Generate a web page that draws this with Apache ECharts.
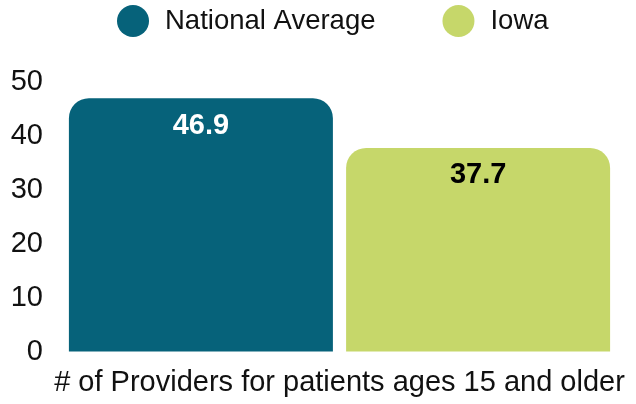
<!DOCTYPE html>
<html><head><meta charset="utf-8">
<script src="https://cdn.jsdelivr.net/npm/echarts@6/dist/echarts.min.js"></script>
<style>html,body{margin:0;padding:0;background:#fff}#c{width:636px;height:404px}</style>
</head><body><div id="c"></div>
<script>
const categories = ['# of Providers for patients ages 15 and older'];
const seriesNames = ['National Average', 'Iowa'];
const nationalValues = [46.9];
const iowaValues = [37.7];
const yTicks = [0, 10, 20, 30, 40, 50];

const FONT = '"Liberation Sans", Arial, sans-serif';
const chart = echarts.init(document.getElementById('c'), null, {renderer: 'canvas'});
chart.setOption({
  animation: false,
  backgroundColor: '#fff',
  textStyle: {fontFamily: FONT},
  legend: {
    left: 112, top: 5, padding: [0, 5],
    icon: 'circle', itemWidth: 32, itemHeight: 32, itemGap: 67,
    textStyle: {fontSize: 27.5, color: '#111', fontFamily: FONT, padding: [0, 0, 0, 11]},
    data: seriesNames
  },
  grid: {left: 63, right: 20, top: 81.5, bottom: 52.5},
  xAxis: {
    type: 'category', data: categories,
    axisLine: {show: false}, axisTick: {show: false},
    axisLabel: {fontSize: 29, color: '#111', fontFamily: FONT, margin: 17}
  },
  yAxis: {
    type: 'value', min: yTicks[0], max: yTicks[yTicks.length - 1], interval: 10,
    splitLine: {show: false}, axisLine: {show: false}, axisTick: {show: false},
    axisLabel: {fontSize: 29, color: '#111', fontFamily: FONT, margin: 20}
  },
  series: [
    {name: seriesNames[0], type: 'bar', data: nationalValues, barWidth: 264, barGap: '5%',
     itemStyle: {color: '#06627A', borderRadius: [20, 20, 0, 0]},
     label: {show: true, position: 'insideTop', distance: 13, color: '#fff', fontWeight: 'bold', fontSize: 29, fontFamily: FONT}},
    {name: seriesNames[1], type: 'bar', data: iowaValues, barWidth: 264,
     itemStyle: {color: '#C6D76A', borderRadius: [20, 20, 0, 0]},
     label: {show: true, position: 'insideTop', distance: 13, color: '#000', fontWeight: 'bold', fontSize: 29, fontFamily: FONT}}
  ]
});
</script></body></html>
